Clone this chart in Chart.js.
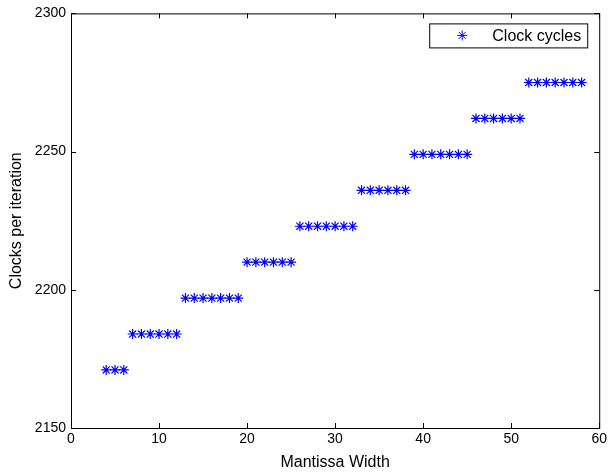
<!DOCTYPE html>
<html>
<head>
<meta charset="utf-8">
<script src="https://cdn.jsdelivr.net/npm/chart.js@4/dist/chart.umd.min.js"></script>
<style>
  html, body { margin: 0; padding: 0; background: #fff; }
  #wrap { width: 610px; height: 473px; }
</style>
</head>
<body>
<div id="wrap"><canvas id="chart"></canvas></div>
<script>
// mantissa width vs clocks per iteration
const mantissaWidth = [4, 5, 6,
  7, 8, 9, 10, 11, 12,
  13, 14, 15, 16, 17, 18, 19,
  20, 21, 22, 23, 24, 25,
  26, 27, 28, 29, 30, 31, 32,
  33, 34, 35, 36, 37, 38,
  39, 40, 41, 42, 43, 44, 45,
  46, 47, 48, 49, 50, 51,
  52, 53, 54, 55, 56, 57, 58];
const clockCycles = [2171, 2171, 2171,
  2184, 2184, 2184, 2184, 2184, 2184,
  2197, 2197, 2197, 2197, 2197, 2197, 2197,
  2210, 2210, 2210, 2210, 2210, 2210,
  2223, 2223, 2223, 2223, 2223, 2223, 2223,
  2236, 2236, 2236, 2236, 2236, 2236,
  2249, 2249, 2249, 2249, 2249, 2249, 2249,
  2262, 2262, 2262, 2262, 2262, 2262,
  2275, 2275, 2275, 2275, 2275, 2275, 2275];
const xTicks = [0, 10, 20, 30, 40, 50, 60];
const yTicks = [2150, 2200, 2250, 2300];

const points = mantissaWidth.map((x, i) => ({ x: x, y: clockCycles[i] }));
const fontFam = '"Liberation Sans", Arial, sans-serif';

// box around the axes + inward ticks, matlab style
const boxPlugin = {
  id: 'boxTicks',
  afterDraw(chart) {
    const { ctx, chartArea: a, scales } = chart;
    ctx.save();
    ctx.strokeStyle = '#000';
    ctx.lineWidth = 1;
    ctx.strokeRect(a.left + 0.5, a.top + 0.5, a.right - a.left, a.bottom - a.top);
    ctx.beginPath();
    xTicks.forEach(v => {
      const px = Math.round(scales.x.getPixelForValue(v)) + 0.5;
      ctx.moveTo(px, a.bottom); ctx.lineTo(px, a.bottom - 5);
      ctx.moveTo(px, a.top); ctx.lineTo(px, a.top + 5);
    });
    yTicks.forEach(v => {
      const py = Math.round(scales.y.getPixelForValue(v)) + 0.5;
      ctx.moveTo(a.left, py); ctx.lineTo(a.left + 5, py);
      ctx.moveTo(a.right, py); ctx.lineTo(a.right - 5, py);
    });
    ctx.stroke();
    ctx.restore();
  }
};

// legend box inside the top right corner
const legendPlugin = {
  id: 'innerLegend',
  afterDraw(chart) {
    const { ctx, chartArea: a } = chart;
    const ds = chart.data.datasets[0];
    const w = 158, h = 24;
    const x0 = a.right - w - 12, y0 = a.top + 10;
    ctx.save();
    ctx.fillStyle = '#fff';
    ctx.fillRect(x0, y0, w, h);
    ctx.strokeStyle = '#000';
    ctx.lineWidth = 1;
    ctx.strokeRect(x0 + 0.5, y0 + 0.5, w, h);
    ctx.strokeStyle = ds.borderColor;
    Chart.helpers.drawPoint(ctx, { pointStyle: 'star', radius: 5, borderWidth: 1.2 }, x0 + 33, y0 + h / 2);
    ctx.fillStyle = '#000';
    ctx.font = '16px ' + fontFam;
    ctx.textBaseline = 'middle';
    ctx.textAlign = 'right';
    ctx.fillText(ds.label, x0 + w - 6, y0 + h / 2 + 1);
    ctx.restore();
  }
};

new Chart(document.getElementById('chart'), {
  type: 'scatter',
  data: {
    datasets: [{
      label: 'Clock cycles',
      data: points,
      pointStyle: 'star',
      pointRadius: 5,
      pointBorderWidth: 1.2,
      borderColor: '#0000ff',
      backgroundColor: '#0000ff',
      showLine: false
    }]
  },
  options: {
    responsive: true,
    maintainAspectRatio: false,
    animation: false,
    layout: { padding: { top: 12, right: 10, left: 2, bottom: 0 } },
    plugins: {
      legend: { display: false },
      tooltip: { enabled: false }
    },
    scales: {
      x: {
        type: 'linear',
        min: 0, max: 60,
        afterBuildTicks: s => { s.ticks = xTicks.map(v => ({ value: v })); },
        afterFit: s => { s.height = 45; },
        grid: { display: false, drawTicks: false },
        border: { color: '#000' },
        ticks: { color: '#000', font: { family: fontFam, size: 14 }, padding: 3, maxRotation: 0, callback: v => String(v) },
        title: { display: true, text: 'Mantissa Width', color: '#000', font: { family: fontFam, size: 16 }, padding: { top: 0, bottom: 1 } }
      },
      y: {
        type: 'linear',
        min: 2150, max: 2300,
        afterBuildTicks: s => { s.ticks = yTicks.map(v => ({ value: v })); },
        afterFit: s => { s.width = 69; },
        grid: { display: false, drawTicks: false },
        border: { color: '#000' },
        ticks: { color: '#000', font: { family: fontFam, size: 14 }, padding: 5, callback: v => String(v) },
        title: { display: true, text: 'Clocks per iteration', color: '#000', font: { family: fontFam, size: 16 }, padding: { top: 5, bottom: 0 } }
      }
    }
  },
  plugins: [boxPlugin, legendPlugin]
});
</script>
</body>
</html>
